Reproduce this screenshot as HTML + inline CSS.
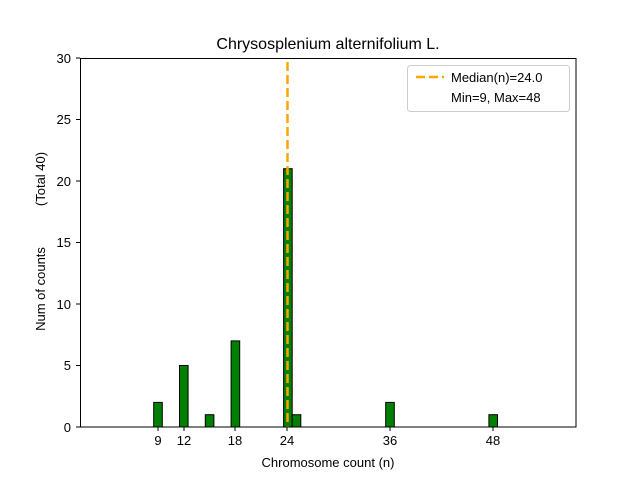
<!DOCTYPE html>
<html><head><style>body{margin:0;background:#fff}svg{display:block}text{font-family:"Liberation Sans","DejaVu Sans",sans-serif}</style></head>
<body>
<svg width="640" height="480" xmlns="http://www.w3.org/2000/svg">
<rect width="640" height="480" fill="#fff"/>
<g fill="#008000" stroke="#000" stroke-width="1">
<rect x="153.7" y="402.4" width="8.6" height="24.6"/>
<rect x="179.5" y="365.5" width="8.6" height="61.5"/>
<rect x="205.3" y="414.7" width="8.6" height="12.3"/>
<rect x="231.1" y="340.9" width="8.6" height="86.1"/>
<rect x="283.6" y="168.7" width="8.6" height="258.3"/>
<rect x="292.2" y="414.7" width="8.6" height="12.3"/>
<rect x="385.7" y="402.4" width="8.6" height="24.6"/>
<rect x="488.9" y="414.7" width="8.6" height="12.3"/>
</g>
<line x1="153.7" y1="427" x2="522" y2="427" stroke="#000" stroke-width="1"/>
<line x1="287.5" y1="62" x2="287.5" y2="427" stroke="#FFA500" stroke-width="2.5" stroke-dasharray="9,4"/>
<rect x="80.5" y="58.5" width="495.5" height="368.5" fill="none" stroke="#000" stroke-width="1"/>
<g stroke="#000" stroke-width="1">
<line x1="158" y1="427" x2="158" y2="431"/><line x1="184" y1="427" x2="184" y2="431"/>
<line x1="235" y1="427" x2="235" y2="431"/><line x1="287" y1="427" x2="287" y2="431"/>
<line x1="390" y1="427" x2="390" y2="431"/><line x1="493" y1="427" x2="493" y2="431"/>
<line x1="76" y1="427" x2="80" y2="427"/><line x1="76" y1="365.5" x2="80" y2="365.5"/>
<line x1="76" y1="304" x2="80" y2="304"/><line x1="76" y1="242.5" x2="80" y2="242.5"/>
<line x1="76" y1="181" x2="80" y2="181"/><line x1="76" y1="119.5" x2="80" y2="119.5"/>
<line x1="76" y1="58" x2="80" y2="58"/>
</g>
<g font-size="13" text-anchor="middle" fill="#000">
<text x="158" y="445">9</text><text x="184" y="445">12</text><text x="235" y="445">18</text>
<text x="287" y="445">24</text><text x="390" y="445">36</text><text x="493" y="445">48</text>
</g>
<g font-size="13" text-anchor="end" fill="#000">
<text x="71" y="432">0</text><text x="71" y="370">5</text><text x="71" y="309">10</text>
<text x="71" y="247">15</text><text x="71" y="186">20</text><text x="71" y="124">25</text><text x="71" y="63">30</text>
</g>
<text x="328" y="467" font-size="13" text-anchor="middle">Chromosome count (n)</text>
<text transform="translate(45,289) rotate(-90)" font-size="13" text-anchor="middle">Num of counts</text>
<text transform="translate(45,179) rotate(-90)" font-size="13" text-anchor="middle">(Total 40)</text>
<text x="328" y="49" font-size="16" text-anchor="middle">Chrysosplenium alternifolium L.</text>
<rect x="407.5" y="65.5" width="162" height="46" rx="3" fill="#fff" stroke="#ccc"/>
<line x1="416" y1="77" x2="444" y2="77" stroke="#FFA500" stroke-width="2.5" stroke-dasharray="9,4"/>
<text x="451" y="82" font-size="13">Median(n)=24.0</text>
<text x="451" y="102" font-size="13">Min=9, Max=48</text>
</svg>
</body></html>
